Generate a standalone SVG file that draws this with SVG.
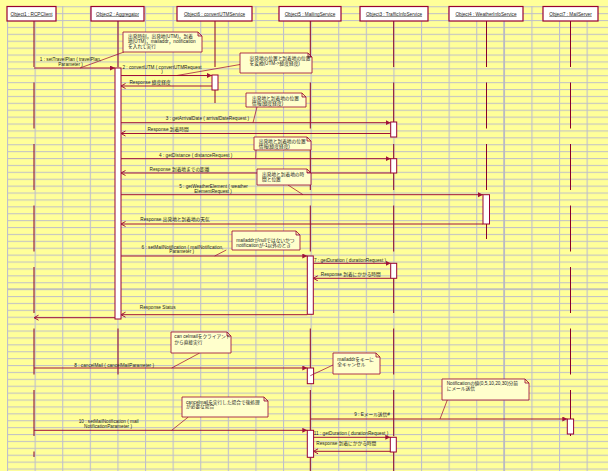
<svg xmlns="http://www.w3.org/2000/svg" width="608" height="471" viewBox="0 0 608 471">
<style>
text{font-family:"Liberation Sans","Noto Sans CJK JP",sans-serif;font-size:4.7px;fill:#222}
.hd{text-anchor:middle;text-decoration:underline;fill:#222}
.m{text-anchor:middle}
.box{fill:#fff;stroke:#990033;stroke-width:1.2}
.life{stroke:#8b0028;stroke-width:1;stroke-dasharray:46 15.5;fill:none}
.act{fill:#fff;stroke:#990033;stroke-width:1}
.call{stroke:#a0103a;stroke-width:1;fill:none;marker-end:url(#ah)}
.ret{stroke:#a0103a;stroke-width:1;fill:none;marker-end:url(#ar)}
.note{fill:#ffffcc;stroke:#990033;stroke-width:0.8}
.nl{stroke:#990033;stroke-width:0.7;fill:none}
</style>
<defs>
<marker id="ah" markerUnits="userSpaceOnUse" markerWidth="6" markerHeight="6" refX="5" refY="2.5" orient="auto"><path d="M0,0 L5,2.5 L0,5 z" fill="#a0103a"/></marker>
<marker id="ar" markerUnits="userSpaceOnUse" markerWidth="7" markerHeight="7" refX="5" refY="3" orient="auto"><path d="M0.5,0.5 L5,3 L0.5,5.5" fill="none" stroke="#a0103a" stroke-width="1"/></marker>
<pattern id="grid" patternUnits="userSpaceOnUse" x="7" y="6.2" width="27.6" height="6.9">
<rect x="0" y="0" width="27.6" height="1.1" fill="#c4c4c4"/>
<rect x="0" y="0" width="1.1" height="6.9" fill="#bfbfcc"/>
</pattern>
</defs>
<rect width="608" height="471" fill="#ffff99"/>
<rect x="7" y="6" width="601" height="465" fill="url(#grid)"/>
<rect x="503.3" y="6" width="1.6" height="465" fill="#b8b8c4"/>
<rect x="7" y="288.3" width="601" height="1.5" fill="#bdbdbd"/>

<g id="lifelines">
<line class="life" x1="34" y1="21" x2="34" y2="457"/>
<line class="life" x1="118" y1="21" x2="118" y2="374.5"/>
<line class="life" x1="215" y1="21" x2="215" y2="103"/>
<line class="life" x1="310.3" y1="21" x2="310.3" y2="471"/>
<line class="life" x1="393.7" y1="21" x2="393.7" y2="471"/>
<line class="life" x1="486.5" y1="21" x2="486.5" y2="239"/>
<line class="life" x1="570.5" y1="21" x2="570.5" y2="436"/>
</g>

<g id="Object1"><rect class="box" x="7" y="6.5" width="49" height="14.5"/><text class="hd" x="31.5" y="15.5">Object1 : RCPClient</text></g>
<g id="Object2"><rect class="box" x="91" y="6.5" width="53" height="14.5"/><text class="hd" x="117.5" y="15.5">Object2 : Aggregator</text></g>
<g id="Object6"><rect class="box" x="177" y="6.5" width="75" height="14.5"/><text class="hd" x="214.5" y="15.5">Object6 : convertUTMService</text></g>
<g id="Object5"><rect class="box" x="279" y="6.5" width="62" height="14.5"/><text class="hd" x="310" y="15.5">Object5 : MailingService</text></g>
<g id="Object3"><rect class="box" x="360" y="6.5" width="68" height="14.5"/><text class="hd" x="394" y="15.5">Object3 : TrafficInfoService</text></g>
<g id="Object4"><rect class="box" x="449" y="6.5" width="74" height="14.5"/><text class="hd" x="486" y="15.5">Object4 : WeatherInfoService</text></g>
<g id="Object7"><rect class="box" x="543" y="6.5" width="55" height="14.5"/><text class="hd" x="570.5" y="15.5">Object7 : MailServer</text></g>

<g id="activations">
<rect class="act" x="115" y="68" width="6" height="251"/>
<rect class="act" x="212" y="75" width="6" height="15"/>
<rect class="act" x="390.7" y="122" width="6" height="15"/>
<rect class="act" x="390.7" y="158.7" width="6" height="14.3"/>
<rect class="act" x="483" y="194.7" width="6.5" height="29.3"/>
<rect class="act" x="307.3" y="256" width="6" height="58.3"/>
<rect class="act" x="390.7" y="263.3" width="6" height="15"/>
<rect class="act" x="307.3" y="368" width="6.3" height="15.7"/>
<rect class="act" x="567.3" y="419" width="6.3" height="15"/>
<rect class="act" x="307.3" y="430.3" width="6.3" height="27"/>
<rect class="act" x="390.3" y="437.3" width="6" height="14.7"/>
</g>

<g id="connectors">
<line class="call" x1="34" y1="68" x2="115" y2="68"/>
<line class="call" x1="121" y1="75.5" x2="212" y2="75.5"/>
<line class="ret" x1="212" y1="86" x2="121" y2="86"/>
<line class="call" x1="121" y1="122.7" x2="390.7" y2="122.7"/>
<line class="ret" x1="390.7" y1="133.5" x2="121" y2="133.5"/>
<line class="call" x1="121" y1="158.7" x2="390.7" y2="158.7"/>
<line class="ret" x1="390.7" y1="173" x2="121" y2="173"/>
<line class="call" x1="121" y1="194.7" x2="483" y2="194.7"/>
<line class="ret" x1="483" y1="224" x2="121" y2="224"/>
<line class="call" x1="121" y1="256" x2="307.3" y2="256"/>
<line class="call" x1="313.3" y1="263.3" x2="390.7" y2="263.3"/>
<line class="ret" x1="390.7" y1="278.3" x2="313.3" y2="278.3"/>
<line class="ret" x1="307.3" y1="314.7" x2="121" y2="314.7"/>
<line class="ret" x1="115" y1="317.7" x2="34" y2="317.7"/>
<line class="call" x1="34" y1="368" x2="307.3" y2="368"/>
<line class="call" x1="310.3" y1="419" x2="567.3" y2="419"/>
<line class="call" x1="34" y1="430.3" x2="307.3" y2="430.3"/>
<line class="call" x1="313.6" y1="437.3" x2="390.3" y2="437.3"/>
<line class="ret" x1="390.3" y1="451.3" x2="313.6" y2="451.3"/>
<line class="nl" x1="124" y1="52" x2="80" y2="68"/>
<line class="nl" x1="240" y1="64.5" x2="177" y2="75.5"/>
<line class="nl" x1="257" y1="107" x2="253" y2="122.7"/>
<line class="nl" x1="256" y1="150" x2="255.7" y2="158.7"/>
<line class="nl" x1="288" y1="185" x2="303" y2="194.7"/>
<line class="nl" x1="226.3" y1="250" x2="214.7" y2="256"/>
<line class="nl" x1="199.7" y1="353" x2="171.7" y2="368"/>
<line class="nl" x1="333.7" y1="364.7" x2="310.3" y2="375.7"/>
<line class="nl" x1="447.3" y1="400" x2="440" y2="419"/>
<line class="nl" x1="188.3" y1="417" x2="171.7" y2="430.3"/>
</g>

<g id="labels">
<text class="m" x="70.5" y="61">1 : setTravelPlan ( travelPlan,</text>
<text class="m" x="70.5" y="65.5">Parameter )</text>
<text class="m" x="162" y="68.5">2 : convertUTM ( convertUTMRequest</text>
<text class="m" x="162" y="72.5">)</text>
<text class="m" x="150" y="84">Response 緯度経度</text>
<text class="m" x="207.5" y="119.5">3 : getArrivalDate ( arrivalDateRequest )</text>
<text class="m" x="168" y="130.5">Response 到着時間</text>
<text class="m" x="195.7" y="157">4 : getDistance ( distanceRequest )</text>
<text class="m" x="179.5" y="171.3">Response 到着地までの距離</text>
<text class="m" x="213.5" y="188">5 : getWeatherElement ( weather</text>
<text class="m" x="213" y="192.5">ElementRequest )</text>
<text class="m" x="175" y="221.3">Response  出発地と到着地の天気</text>
<text class="m" x="182.5" y="248.7">6 : setMailNotification ( mailNotification,</text>
<text class="m" x="181.7" y="253.3">Parameter )</text>
<text class="m" x="350" y="261.8">7 : getDuration ( durationRequest )</text>
<text class="m" x="350.8" y="276">Response  到着にかかる時間</text>
<text class="m" x="157.7" y="308.7">Response Status</text>
<text class="m" x="114.2" y="367">8 : cancelMail ( cancelMailParameter )</text>
<text class="m" x="372" y="416.3">9 : Eメール送信#</text>
<text class="m" x="108.7" y="423">10 : setMailNotification ( mail</text>
<text class="m" x="108" y="427.5">NotificationParameter )</text>
<text class="m" x="351" y="435.3">11 : getDuration ( durationRequest )</text>
<text class="m" x="346.3" y="445.3">Response  到着にかかる時間</text>
</g>

<g id="note1"><path class="note" d="M123,32 H198 L202,36 V52 H123 Z M198,32 V36 H202"/><text x="128" y="37.5">出発時刻，出発地(UTM)，到着</text><text x="128" y="43">地(UTM)，mailaddr，notification</text><text x="128" y="48">を入れて実行</text></g>
<g id="note2"><path class="note" d="M240,53 H308 L312,57 V73 H240 Z M308,53 V57 H312"/><text x="249.5" y="60">出発地の位置と到着地の位置</text><text x="249.5" y="65">を変換(UTM-&gt;緯度経度)</text></g>
<g id="note3"><path class="note" d="M246,93 H302 L306,97 V107 H246 Z M302,93 V97 H306"/><text x="252" y="100">出発地と到着地の位置</text><text x="252" y="105">情報(緯度経度)</text></g>
<g id="note4"><path class="note" d="M254,137 H307 L311,141 V150 H254 Z M307,137 V141 H311"/><text x="258.7" y="143">出発地と到着地の位置</text><text x="258.7" y="148">情報(緯度経度)</text></g>
<g id="note5"><path class="note" d="M257,169 H307 L311,173 V185 H257 Z M307,169 V173 H311"/><text x="262" y="175.5">出発地と到着地の時</text><text x="262" y="181">間と位置</text></g>
<g id="note6"><path class="note" d="M232,231 H296 L300,235 V250 H232 Z M296,231 V235 H300"/><text x="236.3" y="241.5">mailaddrがnullではないかつ</text><text x="236.3" y="246.5">notificationが-1以外のとき</text></g>
<g id="note7"><path class="note" d="M171,332 H227 L231,336 V353 H171 Z M227,332 V336 H231"/><text x="174.3" y="338">can celmailをクライアント</text><text x="174.3" y="343.5">から直接実行</text></g>
<g id="note8"><path class="note" d="M333,353 H376 L380,357 V374 H333 Z M376,353 V357 H380"/><text x="337.3" y="360.5">mailaddrをキーに</text><text x="337.3" y="365.5">全キャンセル</text></g>
<g id="note9"><path class="note" d="M442,379 H525 L529,383 V400 H442 Z M525,379 V383 H529"/><text x="446.7" y="385">Notificationの値(0,5,10,20,30)分前</text><text x="446.7" y="390">にメール送信</text></g>
<g id="note10"><path class="note" d="M182,397 H264 L268,401 V417 H182 Z M264,397 V401 H268"/><text x="186" y="403.5">cancelmailを実行した場合で後処理</text><text x="186" y="408">が必要な場合</text></g>
</svg>
